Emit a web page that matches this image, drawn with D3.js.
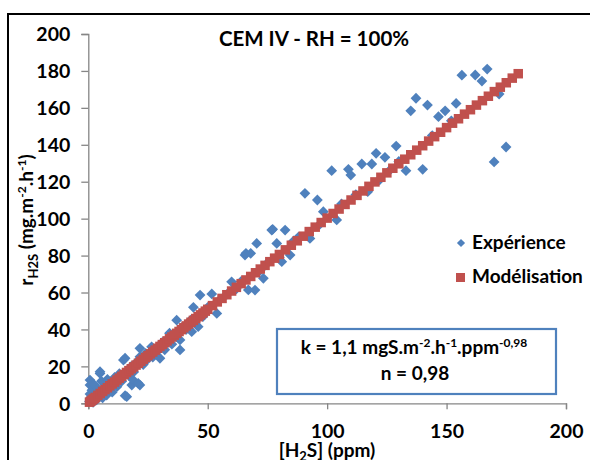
<!DOCTYPE html>
<html><head><meta charset="utf-8">
<script src="https://cdn.jsdelivr.net/npm/d3@7"></script>
<style>
html,body{margin:0;padding:0;background:#fff;}
svg text{font-family:Lato,"Open Sans","DejaVu Sans",sans-serif;font-weight:bold;fill:#000;}
</style></head>
<body>
<svg id="c" width="590" height="460"></svg>
<script>
const title = "CEM IV - RH = 100%";
const xTicks = [0, 50, 100, 150, 200];
const yTicks = [0, 20, 40, 60, 80, 100, 120, 140, 160, 180, 200];
const seriesNames = ["Expérience", "Modélisation"];

const expX = [0.5,0.7,0.7,0.7,1,1.5,2,2.5,3,3.5,4,4.9,4.9,5.5,6,7,7.7,8,9.1,10,10.5,11,12,13,14,14.7,15.4,15.4,16.1,17,18,18.2,18.8,19,20,20.9,21.6,21.6,21.6,23,24,25,26.5,27,28.6,30,31,32,33.5,34,35,37,37,38.4,38.4,39,
  41,42.9,43.3,44,46,46.8,48,50,51.7,53.8,55,58,60,62,64,65.6,66,67,68,69.8,70.5,72,73.3,75,76.8,77.2,78.9,80,81,82.4,84.5,86,88,90.7,92.8,95.9,97,98.4,101.9,104,
  106,108.9,109.9,112,114.5,117,118.7,120.5,122,124.2,126.3,128.9,130,133,135,137.2,140,142,144,146.6,149.4,152,154,156.4,162,164.8,167,169.9,172,174.9];
const expY = [1,5,9.9,12.6,3,7,0.5,10,4,1.8,8,16.2,17.1,12,3,9,4.5,13,7.2,6,11.7,14,9,16,12,23.4,24.4,4.1,3.6,15,20,9.9,12.6,17,22,10.8,9.9,25.2,29.8,21,27,24,30.6,25,27.9,24.4,33,29,34.3,38,32,36.1,45,28.9,34.3,41,
  40,45.1,38.8,52,41.5,58.6,47,52,59.2,48.7,56,59,65.8,62,66,80.3,81.2,61.4,81.2,61.3,86.6,72,67.7,76,93.8,94.2,86.6,79,76.7,93.8,80.3,88,90,113.7,89.3,110.1,97,103.8,126,99.3,
  108,126.7,123.6,113,129.6,114.6,129.6,135.4,121,133.2,126.3,139.3,131,126,158.4,165.2,126.7,161.5,145,155.2,158.4,153,162.4,177.7,177.8,174.5,181,130.7,167.5,138.8];

const modX = [0.5,1,1.5,2,2.5,3,4,5,6,7,8,9,10,11,12,13,14,15,16,17,18,19,20,21,22,23,24,25,26,27,28,29,30,31,32,33,34,35,36,37,38,39,40,41,42,43,44,45,46,47,48,49,50,
  52,54,56,58,60,62,64,66,68,70,72,74,76,78,80,82.5,85,87.5,90,92.5,95,97.5,100,102.5,105,107.5,110,112.5,115,117.5,120,122.5,125,127.5,130,132.5,135,137.5,140,142.5,145,147.5,150,152.5,155,157.5,160,162.5,165,167.5,170,172.5,175,177.5,180];
const modY = [0.6,1.1,1.6,2.2,2.7,3.2,4.3,5.3,6.4,7.4,8.4,9.5,10.5,11.5,12.6,13.6,14.6,15.6,16.7,17.7,18.7,19.7,20.7,21.7,22.8,23.8,24.8,25.8,26.8,27.8,28.8,29.8,30.8,31.8,32.8,33.8,34.9,35.9,36.9,37.9,38.9,39.9,40.9,41.9,42.9,43.9,44.9,45.9,46.9,47.9,48.9,49.9,50.9,
  52.9,54.9,56.8,58.8,60.8,62.8,64.8,66.8,68.7,70.7,72.7,74.7,76.7,78.6,80.6,83.1,85.6,88.0,90.5,93.0,95.4,97.9,100.3,102.8,105.2,107.7,110.1,112.6,115.0,117.5,119.9,122.4,124.8,127.3,129.7,132.2,134.6,137.1,139.5,142.0,144.4,146.8,149.3,151.7,154.1,156.6,159.0,161.5,163.9,166.3,168.8,171.2,173.6,176.1,178.5];

const expColor = "#4F81BD", modColor = "#C0504D";
const svg = d3.select("#c");

// outer chart border
svg.append("rect").attr("x", 8).attr("y", 14).attr("width", 620).attr("height", 520)
  .attr("fill", "none").attr("stroke", "#000").attr("stroke-width", 2);

const x = d3.scaleLinear().domain([0, 200]).range([88.3, 566]);
const y = d3.scaleLinear().domain([0, 200]).range([403.3, 34]);

const axisColor = "#868686";
const gx = svg.append("g").attr("transform", `translate(0,${y(0)})`)
  .call(d3.axisBottom(x).tickValues(xTicks).tickSize(6).tickPadding(18));
const gy = svg.append("g").attr("transform", `translate(${x(0)},0)`)
  .call(d3.axisLeft(y).tickValues(yTicks).tickSize(7).tickPadding(11));
[gx, gy].forEach(g => {
  g.select(".domain").attr("stroke", axisColor).attr("stroke-width", 1.3);
  g.selectAll(".tick line").attr("stroke", axisColor).attr("stroke-width", 1.3);
  g.selectAll(".tick text").style("font-size", "19.5px").attr("fill", "#000");
});
gx.selectAll(".tick text").attr("dy", "0.55em");
gy.selectAll(".tick text").attr("dy", "0.35em");

// experiment diamonds
const diamond = d3.symbol().type(d3.symbolSquare).size(58);
svg.append("g").selectAll("path").data(expX).join("path")
  .attr("d", diamond)
  .attr("transform", (d, i) => `translate(${x(d)},${y(expY[i])}) rotate(45)`)
  .attr("fill", expColor);

// model squares
const sq = 9.5;
svg.append("g").selectAll("rect").data(modX).join("rect")
  .attr("x", d => x(d) - sq / 2)
  .attr("y", (d, i) => y(modY[i]) - sq / 2)
  .attr("width", sq).attr("height", sq)
  .attr("fill", modColor);

// title
svg.append("text").attr("x", 314).attr("y", 46).attr("text-anchor", "middle")
  .style("font-size", "20.5px").text(title);

// legend
const lg = svg.append("g");
lg.append("path").attr("d", d3.symbol().type(d3.symbolSquare).size(34))
  .attr("transform", "translate(461,243) rotate(45)").attr("fill", expColor);
lg.append("text").attr("x", 472).attr("y", 249).style("font-size", "19px").text(seriesNames[0]);
lg.append("rect").attr("x", 456).attr("y", 273).attr("width", 9).attr("height", 9).attr("fill", modColor);
lg.append("text").attr("x", 472).attr("y", 283).style("font-size", "19px").text(seriesNames[1]);

// annotation box
svg.append("rect").attr("x", 277).attr("y", 329).attr("width", 279).attr("height", 65)
  .attr("fill", "#fff").attr("stroke", expColor).attr("stroke-width", 2.2);
const t1 = svg.append("text").attr("x", 414).attr("y", 354).attr("text-anchor", "middle").style("font-size", "19px");
t1.append("tspan").text("k = 1,1 mgS.m");
t1.append("tspan").attr("dy", -7).style("font-size", "12px").text("-2");
t1.append("tspan").attr("dy", 7).text(".h");
t1.append("tspan").attr("dy", -7).style("font-size", "12px").text("-1");
t1.append("tspan").attr("dy", 7).text(".ppm");
t1.append("tspan").attr("dy", -7).style("font-size", "12px").text("-0,98");
svg.append("text").attr("x", 415).attr("y", 380).attr("text-anchor", "middle").style("font-size", "19px").text("n = 0,98");

// x axis title
const xt = svg.append("text").attr("x", 327).attr("y", 457).attr("text-anchor", "middle").style("font-size", "19px");
xt.append("tspan").text("[H");
xt.append("tspan").attr("dy", 4).style("font-size", "13px").text("2");
xt.append("tspan").attr("dy", -4).text("S] (ppm)");

// y axis title
const yt = svg.append("text").attr("transform", "translate(33,220) rotate(-90)").attr("text-anchor", "middle").style("font-size", "19px");
yt.append("tspan").text("r");
yt.append("tspan").attr("dy", 5).style("font-size", "13px").text("H2S");
yt.append("tspan").attr("dy", -5).text(" (mg.m");
yt.append("tspan").attr("dy", -7).style("font-size", "12px").text("-2");
yt.append("tspan").attr("dy", 7).text(".h");
yt.append("tspan").attr("dy", -7).style("font-size", "12px").text("-1");
yt.append("tspan").attr("dy", 7).text(")");
</script>
</body></html>
